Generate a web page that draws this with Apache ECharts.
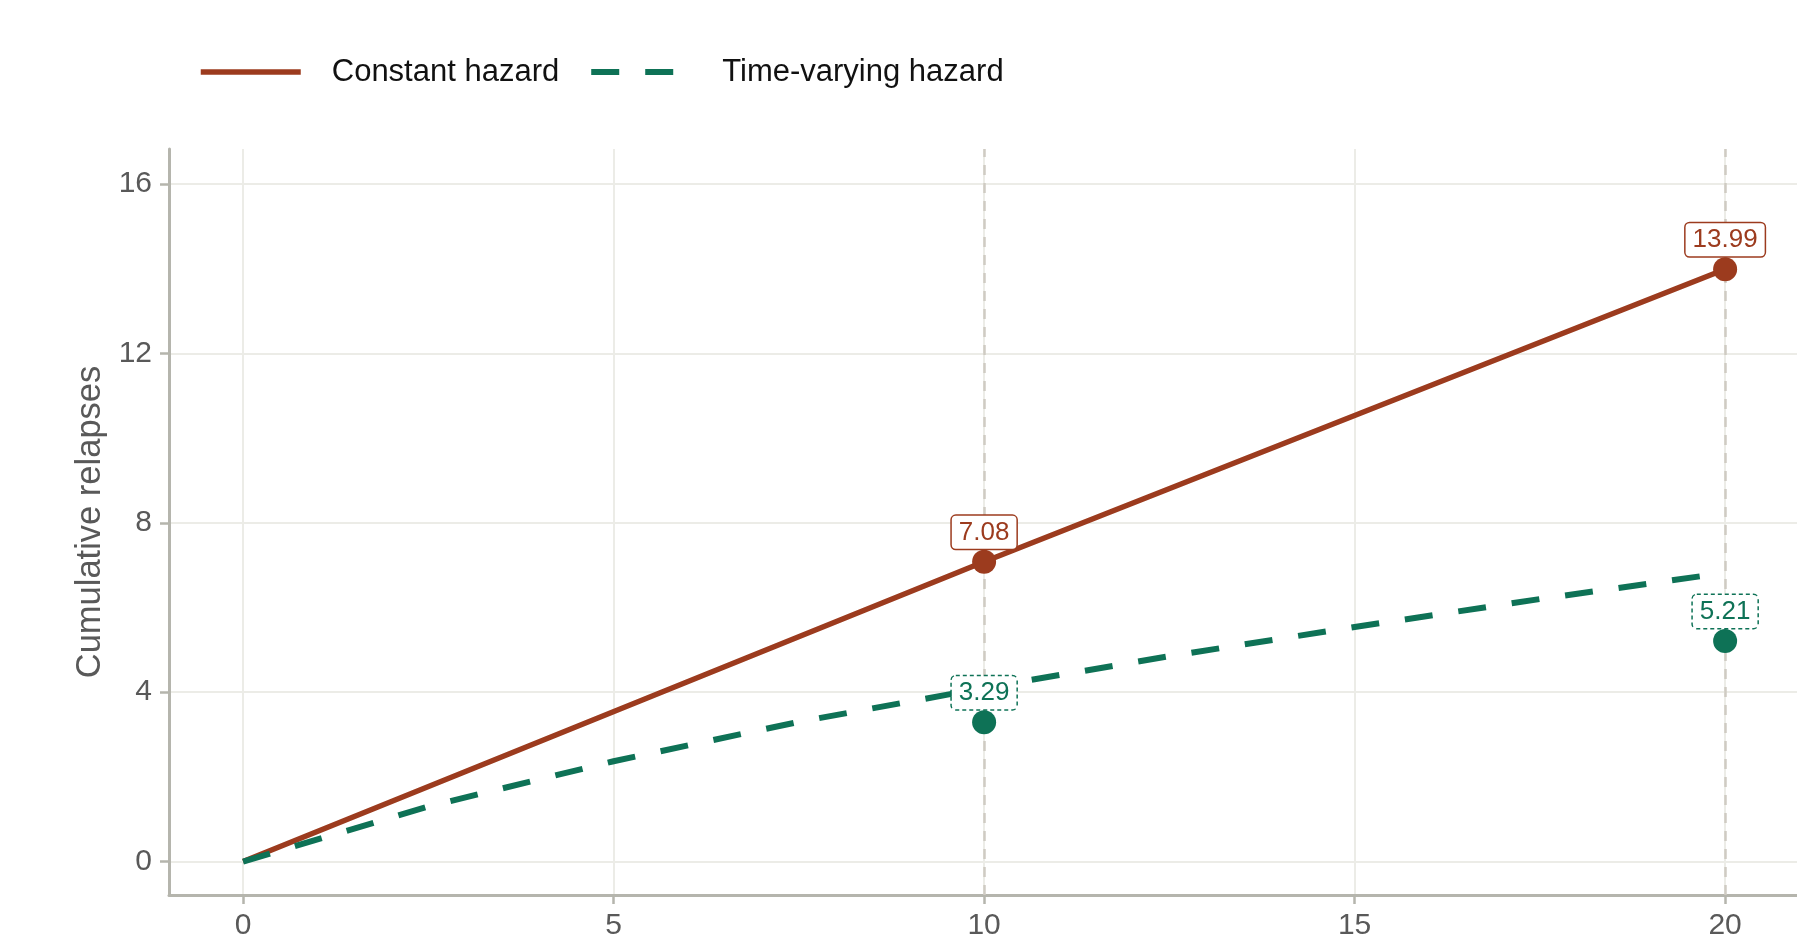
<!DOCTYPE html>
<html>
<head>
<meta charset="utf-8">
<script src="https://cdn.jsdelivr.net/npm/echarts@6/dist/echarts.min.js"></script>
<style>
html,body{margin:0;padding:0;background:#fff;}
#chart{width:1797px;height:941px;}
</style>
</head>
<body>
<div id="chart"></div>
<script>
// Data
const seriesNames = ['Constant hazard', 'Time-varying hazard'];
const constantX = [0, 10, 20];
const constantY = [0, 7.08, 13.99];
const varyingX = [0, 2.5, 5, 7.5, 10, 12.5, 15, 17.5, 20];
const varyingY = [0, 1.3, 2.37, 3.3, 4.1, 4.85, 5.54, 6.2, 6.82];
const obsConstantX = [10, 20];
const obsConstantY = [7.08, 13.99];
const obsVaryingX = [10, 20];
const obsVaryingY = [3.29, 5.21];
const refLinesX = [10, 20];
const xTicks = [0, 5, 10, 15, 20];
const yTicks = [0, 4, 8, 12, 16];
const yTitle = 'Cumulative relapses';

const RED = '#9c3b1e';
const GREEN = '#0e7256';
const FONT = 'Liberation Sans, Arial, sans-serif';

const zip = (xs, ys) => xs.map((x, i) => [x, ys[i]]);

const chart = echarts.init(document.getElementById('chart'));
const labelBase = {
  show: true,
  position: 'top',
  distance: 1,
  fontFamily: FONT,
  fontSize: 26,
  backgroundColor: '#fff',
  borderWidth: 1.5,
  borderRadius: 4,
  padding: [4, 7, 3, 7],
  formatter: p => p.value[1].toFixed(2)
};

chart.setOption({
  animation: false,
  textStyle: { fontFamily: FONT },
  grid: { left: 169, right: 0, top: 149, bottom: 39, containLabel: false },
  legend: {
    left: 193,
    top: 49,
    itemWidth: 100,
    itemHeight: 20,
    itemGap: 29,
    data: seriesNames,
    itemStyle: { opacity: 0 },
    lineStyle: { width: 'inherit', type: 'inherit' },
    textStyle: { fontFamily: FONT, fontSize: 31, color: '#111', lineHeight: 36, padding: [0, 0, 0, 26] }
  },
  xAxis: {
    type: 'value',
    min: -1,
    max: 20.97,
    axisLine: { show: true, onZero: false, lineStyle: { color: '#b5b5ad', width: 3 } },
    axisTick: { show: true, length: 9, customValues: xTicks, lineStyle: { color: '#b5b5ad', width: 2.5 } },
    axisLabel: { customValues: xTicks, margin: 16, fontSize: 30, color: '#595959', fontFamily: FONT },
    splitLine: { show: true, lineStyle: { color: '#ecece7', width: 2 } }
  },
  yAxis: {
    type: 'value',
    min: -0.79,
    max: 16.83,
    name: yTitle,
    nameLocation: 'middle',
    nameGap: 60,
    nameTextStyle: { fontSize: 34.5, color: '#595959', fontFamily: FONT },
    axisLine: { show: true, onZero: false, lineStyle: { color: '#b5b5ad', width: 3 } },
    axisTick: { show: true, length: 9, customValues: yTicks, lineStyle: { color: '#b5b5ad', width: 2.5 } },
    axisLabel: { customValues: yTicks, margin: 17, fontSize: 30, color: '#595959', fontFamily: FONT },
    splitLine: { show: true, lineStyle: { color: '#ecece7', width: 2 } }
  },
  series: [
    {
      type: 'scatter',
      data: [],
      z: 1,
      silent: true,
      markLine: {
        silent: true,
        z: 1,
        symbol: 'none',
        label: { show: false },
        lineStyle: { color: '#cfcbc3', width: 2.5, type: [10, 8] },
        data: refLinesX.map(x => ({ xAxis: x }))
      }
    },
    {
      name: seriesNames[0],
      type: 'line',
      z: 3,
      symbol: 'none',
      data: zip(constantX, constantY),
      lineStyle: { color: RED, width: 5.5 },
      itemStyle: { color: RED }
    },
    {
      name: seriesNames[1],
      type: 'line',
      z: 3,
      symbol: 'none',
      data: zip(varyingX, varyingY),
      lineStyle: { color: GREEN, width: 6, type: [28, 26] },
      itemStyle: { color: GREEN }
    },
    {
      type: 'scatter',
      z: 4,
      symbolSize: 24,
      data: zip(obsConstantX, obsConstantY),
      itemStyle: { color: RED, opacity: 1 },
      label: Object.assign({}, labelBase, { color: RED, borderColor: RED })
    },
    {
      type: 'scatter',
      z: 4,
      symbolSize: 24,
      data: zip(obsVaryingX, obsVaryingY),
      itemStyle: { color: GREEN, opacity: 1 },
      label: Object.assign({}, labelBase, { color: GREEN, borderColor: GREEN, borderType: [4, 3] })
    }
  ]
});
</script>
</body>
</html>
